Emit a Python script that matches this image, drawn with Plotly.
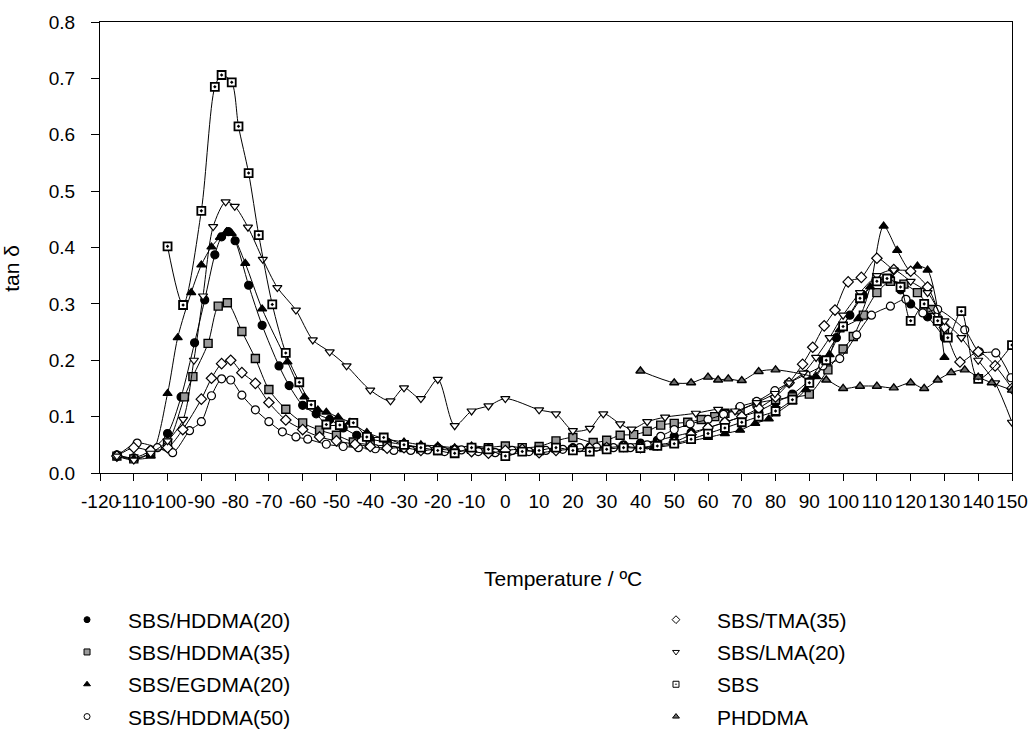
import plotly.graph_objects as go

# ---------------- data ----------------
t_hddma20 = [-115, -110, -105, -100, -96, -92, -89, -86, -84, -82, -80, -76, -72, -67, -64, -60, -56, -52, -48, -44, -40, -35, -30, -25, -20, -15, -10, -5, 0, 5, 10, 15, 20, 25, 30, 35, 40, 45, 50, 55, 60, 65, 70, 75, 80, 85, 90, 94, 98, 102, 106, 110, 114, 117, 120, 125, 130]
v_hddma20 = [0.032, 0.027, 0.040, 0.070, 0.135, 0.231, 0.307, 0.387, 0.419, 0.428, 0.412, 0.333, 0.262, 0.190, 0.155, 0.120, 0.105, 0.095, 0.080, 0.067, 0.060, 0.055, 0.050, 0.046, 0.045, 0.042, 0.040, 0.041, 0.040, 0.040, 0.042, 0.044, 0.045, 0.046, 0.048, 0.050, 0.053, 0.058, 0.065, 0.072, 0.080, 0.090, 0.100, 0.110, 0.125, 0.140, 0.165, 0.200, 0.240, 0.280, 0.315, 0.340, 0.345, 0.325, 0.300, 0.277, 0.240]

t_hddma35 = [-115, -110, -105, -100, -95, -92.5, -88, -85, -82.3, -78, -74, -70, -65, -60, -55, -50, -45, -40, -35, -30, -25, -20, -15, -10, -5, 0, 5, 10, 15, 20, 26, 30, 34, 38, 42, 46, 50, 54, 58, 62, 65, 69.5, 74.5, 80, 85, 90, 95.5, 100, 103, 106, 110, 114, 118, 122, 126, 130]
v_hddma35 = [0.030, 0.025, 0.035, 0.053, 0.135, 0.171, 0.230, 0.296, 0.302, 0.251, 0.203, 0.148, 0.113, 0.089, 0.076, 0.067, 0.055, 0.050, 0.048, 0.045, 0.043, 0.040, 0.040, 0.042, 0.045, 0.048, 0.045, 0.047, 0.057, 0.063, 0.054, 0.058, 0.067, 0.068, 0.074, 0.085, 0.088, 0.090, 0.095, 0.100, 0.106, 0.112, 0.124, 0.130, 0.135, 0.140, 0.183, 0.220, 0.242, 0.280, 0.320, 0.340, 0.335, 0.320, 0.290, 0.250]

t_egdma20 = [-115, -110, -105, -100, -97, -93, -90, -87, -84.5, -82.5, -81, -77, -72, -64.5, -59.5, -55.5, -53, -49.5, -46, -41, -36, -30, -25, -20, -15, -10, -5, 0, 5, 10, 15, 20, 25, 30, 35, 40, 44, 50, 55, 60, 65, 69.5, 74, 78, 80, 85, 89, 92, 96, 99, 104.5, 108, 112, 116, 120, 122, 125, 130]
v_egdma20 = [0.032, 0.025, 0.030, 0.141, 0.240, 0.320, 0.369, 0.401, 0.418, 0.428, 0.425, 0.372, 0.291, 0.197, 0.135, 0.112, 0.108, 0.099, 0.090, 0.072, 0.061, 0.055, 0.050, 0.048, 0.045, 0.048, 0.045, 0.040, 0.038, 0.040, 0.042, 0.042, 0.043, 0.042, 0.043, 0.043, 0.045, 0.050, 0.057, 0.063, 0.070, 0.076, 0.088, 0.096, 0.105, 0.126, 0.148, 0.171, 0.210, 0.254, 0.274, 0.330, 0.438, 0.395, 0.358, 0.367, 0.360, 0.205]

t_hddma50 = [-115, -109, -103, -98.5, -93.5, -90, -87, -84, -81.3, -78, -74, -70, -66, -62, -58.5, -53, -48, -43.5, -38.5, -33, -28, -23, -18, -13, -8, -3, 2, 7, 12, 17, 22, 27, 32, 37, 42, 46, 50, 54.7, 60, 64.6, 69.5, 74.4, 79.8, 84, 89, 94, 99, 104, 108.4, 114, 118.6, 123.6, 128, 136, 140.3, 145.2, 149.7]
v_hddma50 = [0.030, 0.053, 0.045, 0.036, 0.075, 0.091, 0.137, 0.167, 0.165, 0.138, 0.112, 0.091, 0.073, 0.064, 0.060, 0.051, 0.047, 0.045, 0.043, 0.040, 0.040, 0.041, 0.038, 0.041, 0.038, 0.036, 0.040, 0.038, 0.040, 0.042, 0.045, 0.046, 0.045, 0.045, 0.050, 0.065, 0.077, 0.087, 0.095, 0.104, 0.118, 0.127, 0.146, 0.160, 0.175, 0.190, 0.203, 0.245, 0.280, 0.296, 0.308, 0.284, 0.290, 0.254, 0.215, 0.213, 0.169]

t_tma35 = [-115, -110, -105, -100, -95.5, -90, -87, -84, -81.3, -78, -74, -70, -65, -60, -55, -50, -44.5, -40, -35, -30, -25, -20, -15, -10, -5, 0, 5, 10, 15, 20, 25, 30, 35, 40, 45, 50, 55, 60, 65, 70, 75, 80, 84, 88, 91, 94.4, 97.6, 101.5, 105.4, 110, 115, 120, 125, 130, 134.6, 140, 145, 150]
v_tma35 = [0.030, 0.045, 0.040, 0.045, 0.077, 0.131, 0.168, 0.194, 0.200, 0.178, 0.159, 0.125, 0.094, 0.077, 0.064, 0.057, 0.051, 0.047, 0.044, 0.045, 0.040, 0.042, 0.040, 0.038, 0.035, 0.040, 0.042, 0.036, 0.040, 0.042, 0.044, 0.045, 0.047, 0.045, 0.050, 0.055, 0.068, 0.080, 0.090, 0.100, 0.115, 0.135, 0.160, 0.193, 0.223, 0.261, 0.289, 0.339, 0.347, 0.381, 0.361, 0.358, 0.330, 0.258, 0.197, 0.215, 0.190, 0.150]

t_lma20 = [-115, -110, -105, -100, -95.4, -92.2, -89.5, -86.5, -82.8, -80.1, -76.2, -71.8, -67.5, -62, -57, -52, -47, -40, -34, -30, -25, -20, -15, -10, -5, 0, 10, 15, 20, 25, 29, 34, 37.4, 42, 47.3, 56.4, 63, 68, 74.4, 79.8, 84, 88.2, 92, 96, 100, 105, 110, 115, 120, 125, 130, 135, 140, 145, 150]
v_lma20 = [0.030, 0.023, 0.035, 0.057, 0.095, 0.200, 0.314, 0.437, 0.481, 0.473, 0.436, 0.379, 0.329, 0.289, 0.236, 0.215, 0.190, 0.147, 0.128, 0.151, 0.132, 0.166, 0.084, 0.110, 0.119, 0.132, 0.112, 0.105, 0.075, 0.079, 0.105, 0.087, 0.078, 0.091, 0.099, 0.106, 0.113, 0.110, 0.125, 0.141, 0.160, 0.177, 0.205, 0.240, 0.280, 0.320, 0.350, 0.360, 0.340, 0.320, 0.270, 0.240, 0.200, 0.160, 0.090]

t_sbs = [-100, -95.4, -90, -86, -84, -81, -79, -76, -73, -69, -65, -61, -57.5, -53, -49, -45, -41, -36, -30, -25, -20, -15, -10, -5, 0, 5, 10, 15, 20, 25, 30, 35, 40, 45, 50, 55, 60, 65, 70, 75, 80, 85, 90, 95, 100, 105, 110, 113, 117, 120, 124, 128, 131, 135, 140, 150]
v_sbs = [0.402, 0.298, 0.465, 0.685, 0.706, 0.693, 0.615, 0.532, 0.422, 0.299, 0.213, 0.161, 0.121, 0.086, 0.085, 0.089, 0.064, 0.063, 0.050, 0.045, 0.040, 0.035, 0.045, 0.042, 0.030, 0.038, 0.040, 0.045, 0.040, 0.038, 0.042, 0.045, 0.044, 0.048, 0.052, 0.060, 0.070, 0.080, 0.090, 0.100, 0.110, 0.130, 0.160, 0.200, 0.260, 0.310, 0.340, 0.345, 0.330, 0.270, 0.300, 0.270, 0.240, 0.287, 0.167, 0.227]

t_phddma = [40, 50, 55, 60, 63, 66, 70, 75, 80, 95, 100, 105, 110, 115, 120, 124, 128, 132, 136, 140, 144, 150]
v_phddma = [0.181, 0.160, 0.160, 0.170, 0.165, 0.167, 0.164, 0.180, 0.183, 0.165, 0.150, 0.154, 0.154, 0.151, 0.160, 0.150, 0.165, 0.178, 0.183, 0.170, 0.160, 0.147]

x_ticks = list(range(-120, 151, 10))
y_ticks = [0.0, 0.1, 0.2, 0.3, 0.4, 0.5, 0.6, 0.7, 0.8]

FONT = "Arial, Liberation Sans, sans-serif"
FS = 19      # tick labels
FS_TXT = 21  # axis titles and legend

# name, x, y, symbol, fill, marker outline width, legend column
series = [
    ("SBS/HDDMA(20)", t_hddma20, v_hddma20, "circle", "black", 1.2, "legend"),
    ("SBS/HDDMA(35)", t_hddma35, v_hddma35, "square", "#9a9a9a", 1.4, "legend"),
    ("SBS/EGDMA(20)", t_egdma20, v_egdma20, "triangle-up", "black", 1.2, "legend"),
    ("SBS/HDDMA(50)", t_hddma50, v_hddma50, "circle", "white", 1.2, "legend"),
    ("SBS/TMA(35)", t_tma35, v_tma35, "diamond", "white", 1.2, "legend2"),
    ("SBS/LMA(20)", t_lma20, v_lma20, "triangle-down", "white", 1.2, "legend2"),
    ("SBS", t_sbs, v_sbs, "square-dot", "white", 1.8, "legend2"),
    ("PHDDMA", t_phddma, v_phddma, "triangle-up", "#6a6a6a", 1.4, "legend2"),
]

fig = go.Figure()
for name, xs, ys, sym, fill, lw, _lg in series:
    fig.add_trace(go.Scatter(
        x=xs, y=ys, mode="lines+markers", name=name, showlegend=False,
        line=dict(color="black", width=1, shape="spline", smoothing=0.8),
        marker=dict(symbol=sym, size=8, color=fill, line=dict(color="black", width=lw)),
    ))

# legend-only entries (marker without line, as in the reference)
for i, (name, xs, ys, sym, fill, lw, lg) in enumerate(series):
    fig.add_trace(go.Scatter(
        x=[None], y=[None], mode="markers", name=name, legend=lg,
        legendgroup=f"g{i}", showlegend=True,
        marker=dict(symbol=sym, size=6, color=fill, line=dict(color="black", width=1)),
    ))

fig.update_layout(
    width=1030, height=732,
    margin=dict(l=100, r=18, t=22, b=259, autoexpand=False),
    paper_bgcolor="white", plot_bgcolor="white",
    font=dict(family=FONT, size=FS, color="black"),
    xaxis=dict(
        range=[-120, 150], tickmode="array", tickvals=x_ticks,
        ticktext=[str(v) for v in x_ticks], tickangle=0,
        ticks="outside", ticklen=7, tickcolor="black",
        ticklabelstandoff=4,
        showline=True, linecolor="black", linewidth=1, mirror=True,
        showgrid=False, zeroline=False,
        tickfont=dict(size=FS),
    ),
    yaxis=dict(
        range=[0, 0.8], tickmode="array", tickvals=y_ticks,
        ticktext=[f"{v:.1f}" for v in y_ticks],
        ticks="outside", ticklen=8, tickcolor="black",
        ticklabelstandoff=12,
        showline=True, linecolor="black", linewidth=1, mirror=True,
        showgrid=False, zeroline=False,
        tickfont=dict(size=FS),
    ),
    annotations=[
        dict(text="Temperature / ºC", xref="paper", yref="paper",
             x=0.508, y=-0.233, xanchor="center", yanchor="middle",
             showarrow=False, font=dict(size=FS_TXT)),
        dict(text="tan δ", xref="paper", yref="paper",
             x=-0.0965, y=0.455, xanchor="center", yanchor="middle",
             textangle=-90, showarrow=False, font=dict(size=FS_TXT)),
    ],
    legend=dict(x=0.0447, y=0.181, xref="container", yref="container",
                xanchor="left", yanchor="top",
                orientation="v", tracegroupgap=2, itemwidth=72,
                font=dict(size=FS_TXT), bgcolor="rgba(0,0,0,0)"),
    legend2=dict(x=0.6165, y=0.181, xref="container", yref="container",
                 xanchor="left", yanchor="top",
                 orientation="v", tracegroupgap=2, itemwidth=72,
                 font=dict(size=FS_TXT), bgcolor="rgba(0,0,0,0)"),
)

fig.write_html("out.html")
